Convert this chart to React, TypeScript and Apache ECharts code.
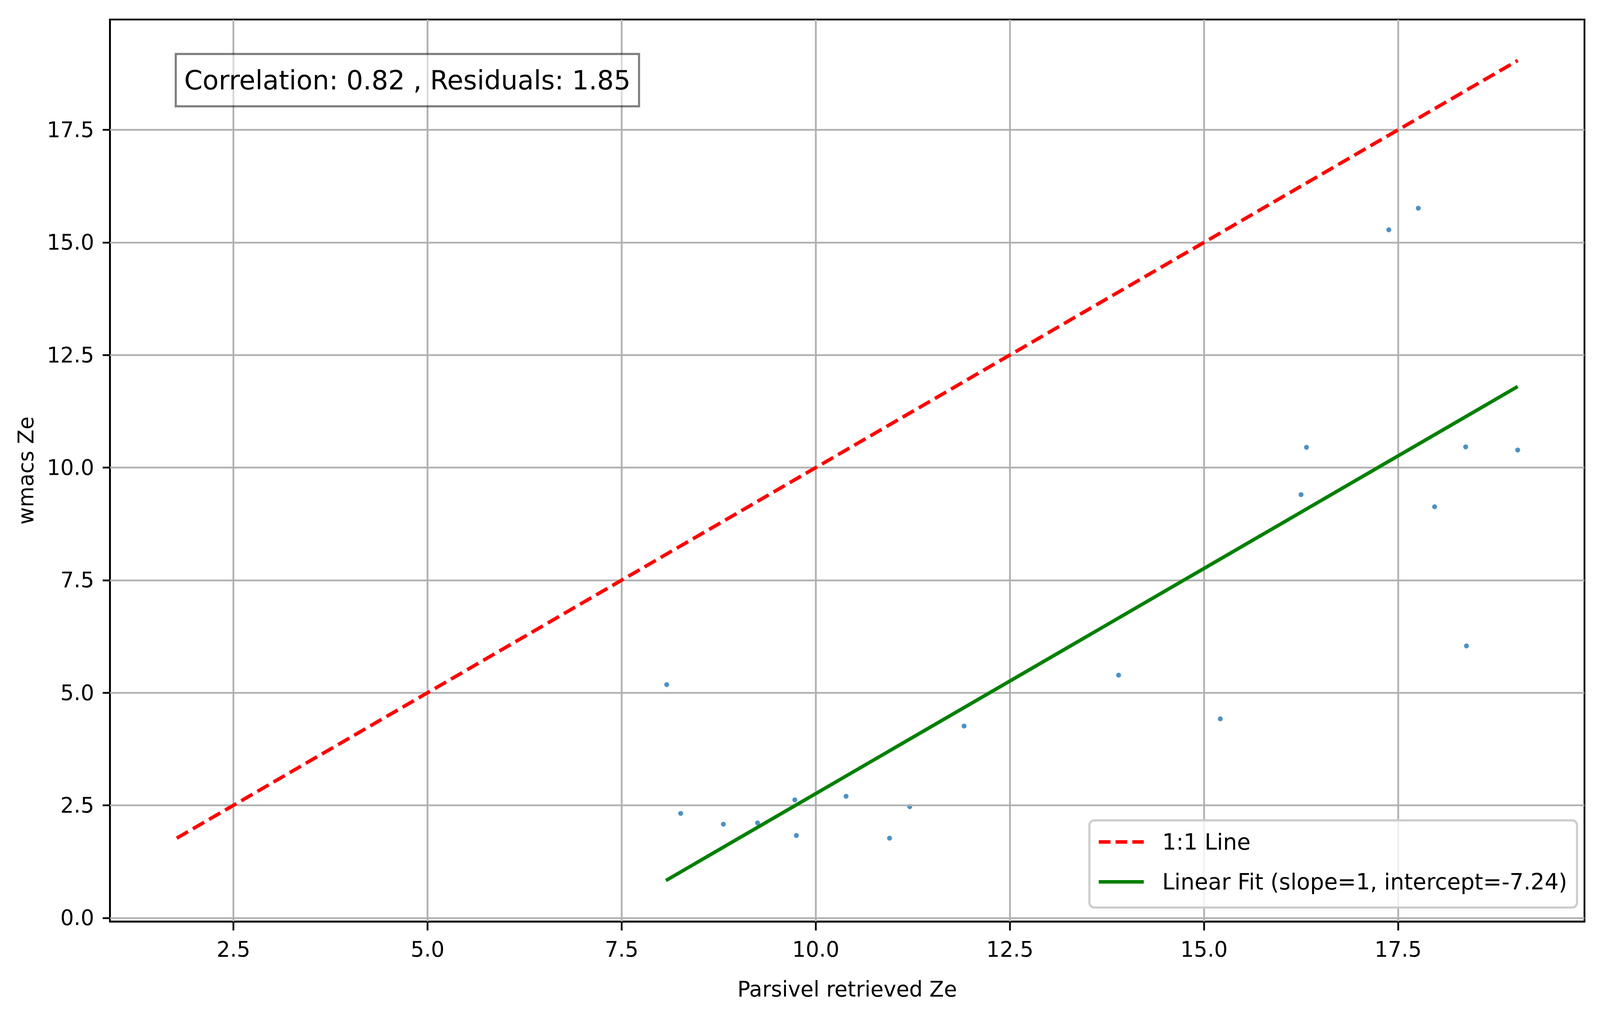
import React, { useEffect, useRef, useState } from "react";
import * as echarts from "echarts";

// ---- data ----
const scatterX = [8.08, 8.26, 8.81, 9.25, 9.73, 9.75, 10.39, 10.95, 11.21, 11.91, 13.90, 15.21, 16.25, 16.32, 17.38, 17.76, 17.97, 18.37, 18.38, 19.04];
const scatterY = [5.18, 2.32, 2.08, 2.11, 2.62, 1.83, 2.70, 1.77, 2.47, 4.26, 5.39, 4.42, 9.40, 10.45, 15.28, 15.76, 9.13, 10.46, 6.04, 10.39];
const oneToOneX = [1.77, 19.04];
const oneToOneY = [1.77, 19.04];
const fitX = [8.07, 19.04];
const fitY = [0.83, 11.80];
const xTicks = [2.5, 5.0, 7.5, 10.0, 12.5, 15.0, 17.5];
const yTicks = [0.0, 2.5, 5.0, 7.5, 10.0, 12.5, 15.0, 17.5];
const xRange = [0.91, 19.9];
const yRange = [-0.08, 19.95];
const annotationText = "Correlation: 0.82 , Residuals: 1.85";
const oneToOneName = "1:1 Line";
const fitName = "Linear Fit (slope=1, intercept=-7.24)";
const xName = "Parsivel retrieved Ze";
const yName = "wmacs Ze";

const FONT = "DejaVu Sans";
const REF_W = 5048;
const REF_H = 2620;

export default function App() {
  const ref = useRef<HTMLDivElement>(null);
  const [size] = useState(() => ({
    w: Math.min(window.innerWidth || REF_W, REF_W),
    h: Math.min(window.innerHeight || REF_H, REF_H),
  }));
  const W = size.w;
  const H = size.h;
  useEffect(() => {
    if (!ref.current) return;
    const chart = echarts.init(ref.current, undefined, { renderer: "svg" });
    const sx = W / REF_W;
    const sy = H / REF_H;
    const sm = Math.sqrt(sx * sy);
    const X = (v: number) => v * sx;
    const Y = (v: number) => v * sy;
    const M = (v: number) => v * sm;
    const f = (v: number) => v * sx; // font sizes follow the horizontal scale so text widths match
    const tickFont = f(67);
    const legendFont = f(69.5);
    const gridLine = { color: "#b0b0b0", width: M(5), type: "solid" };
    const option = {
      animation: false,
      backgroundColor: "#ffffff",
      textStyle: { fontFamily: FONT },
      title: {
        text: annotationText,
        left: X(554),
        top: Y(138),
        padding: [Y(135) / 2 - f(83) / 2, X(27), Y(135) / 2 - f(83) / 2, X(27)],
        backgroundColor: "rgba(255,255,255,0.5)",
        borderColor: "rgba(0,0,0,0.5)",
        borderWidth: M(6),
        textStyle: { fontFamily: FONT, fontSize: f(83), fontWeight: "normal", color: "#000" },
        z: 10,
      },
      grid: {
        left: X(347),
        top: Y(50),
        right: X(49),
        bottom: Y(260),
        show: true,
        borderColor: "#000",
        borderWidth: M(5),
        backgroundColor: "transparent",
      },
      legend: {
        orient: "vertical",
        left: X(3437),
        top: Y(2101),
        padding: [Y(55.5) - legendFont / 2, X(31), Y(66) - legendFont / 2, X(24)],
        itemWidth: X(142),
        itemHeight: legendFont,
        itemGap: Y(102.5) - legendFont,
        backgroundColor: "rgba(255,255,255,0.8)",
        borderColor: "#cccccc",
        borderWidth: M(6),
        borderRadius: M(14),
        data: [
          {
            name: oneToOneName,
            lineStyle: { color: "#ff0000", width: M(10), type: [X(37), X(16)] },
            itemStyle: { color: "rgba(0,0,0,0)", borderWidth: 0, opacity: 0 },
          },
          {
            name: fitName,
            lineStyle: { color: "#008000", width: M(10), type: "solid" },
            itemStyle: { color: "rgba(0,0,0,0)", borderWidth: 0, opacity: 0 },
          },
        ],
        textStyle: { fontFamily: FONT, fontSize: legendFont, color: "#000", padding: [0, 0, 0, X(52)] },
        z: 10,
      },
      xAxis: {
        type: "value",
        min: xRange[0],
        max: xRange[1],
        name: xName,
        nameLocation: "middle",
        nameGap: Y(173.5) - tickFont / 2,
        nameTextStyle: { fontFamily: FONT, fontSize: tickFont, color: "#000" },
        axisLine: { onZero: false, lineStyle: { color: "#000", width: M(5) } },
        axisTick: { show: true, length: Y(23), lineStyle: { color: "#000", width: M(5) }, customValues: xTicks },
        axisLabel: {
          customValues: xTicks,
          margin: Y(44),
          fontFamily: FONT,
          fontSize: tickFont,
          color: "#000",
          formatter: (v: number) => v.toFixed(1),
        },
        splitLine: { show: false },
      },
      yAxis: {
        type: "value",
        min: yRange[0],
        max: yRange[1],
        name: yName,
        nameLocation: "middle",
        nameRotate: 90,
        nameGap: X(265.5) - tickFont / 2,
        nameTextStyle: { fontFamily: FONT, fontSize: tickFont, color: "#000" },
        axisLine: { onZero: false, lineStyle: { color: "#000", width: M(5) } },
        axisTick: { show: true, length: X(23), lineStyle: { color: "#000", width: M(5) }, customValues: yTicks },
        axisLabel: {
          customValues: yTicks,
          margin: X(50),
          fontFamily: FONT,
          fontSize: tickFont,
          color: "#000",
          formatter: (v: number) => v.toFixed(1),
        },
        splitLine: { show: false },
      },
      series: [
        {
          type: "scatter",
          data: scatterX.map((x, i) => [x, scatterY[i]]),
          symbolSize: M(14),
          itemStyle: { color: "#1f77b4" },
          z: 1,
          markLine: {
            silent: true,
            symbol: "none",
            label: { show: false },
            lineStyle: gridLine,
            z: 2,
            data: [
              ...xTicks.map((v) => ({ xAxis: v })),
              ...yTicks.map((v) => ({ yAxis: v })),
            ],
          },
        },
        {
          type: "line",
          name: oneToOneName,
          data: oneToOneX.map((x, i) => [x, oneToOneY[i]]),
          showSymbol: false,
          symbol: "none",
          lineStyle: { color: "#ff0000", width: M(10), type: [M(37), M(16)] },
          itemStyle: { color: "#ff0000" },
          z: 3,
        },
        {
          type: "line",
          name: fitName,
          data: fitX.map((x, i) => [x, fitY[i]]),
          showSymbol: false,
          symbol: "none",
          lineStyle: { color: "#008000", width: M(10) },
          itemStyle: { color: "#008000" },
          z: 3,
        },
      ],
    };
    chart.setOption(option as any);
    return () => chart.dispose();
  }, [W, H]);
  return (
    <div
      ref={ref}
      style={{ position: "absolute", left: 0, top: 0, width: W, height: H }}
    />
  );
}
